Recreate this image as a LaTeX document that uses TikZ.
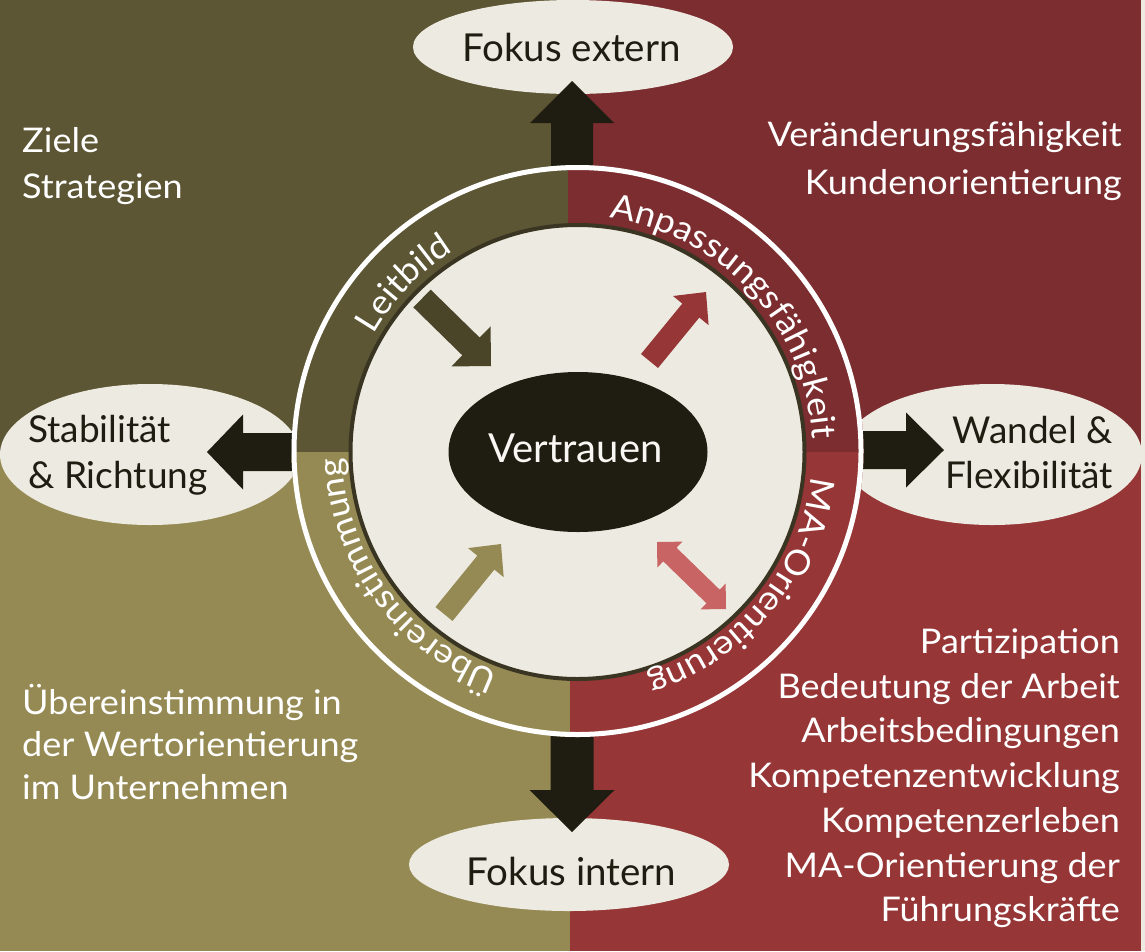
\documentclass[tikz,border=0pt]{standalone}
\usepackage{fontspec}
\setmainfont{Lato}
\newfontfamily\widefam{Lato}[FakeStretch=1.06]
\usetikzlibrary{calc,shapes.geometric,decorations.text}
\definecolor{cTL}{HTML}{5C5634}
\definecolor{cTR}{HTML}{7C2D2F}
\definecolor{cBL}{HTML}{968A54}
\definecolor{cBR}{HTML}{963636}
\definecolor{cDark}{HTML}{1F1D11}
\definecolor{cCream}{HTML}{EDEBE1}
\definecolor{cBorder}{HTML}{3A3522}
\definecolor{cLeit}{HTML}{4A4429}
\definecolor{cMA}{HTML}{C96464}
\newcommand\lblfont{\widefam\fontsize{34}{40}\selectfont}
\newcommand\ellfont{\fontsize{38.5}{46}\selectfont}
\newcommand\sidefont{\fontsize{37}{44}\selectfont}
\newcommand\ringfont{\widefam\fontsize{34}{40}\selectfont}
\newcommand{\fatarrow}[6]{%
  \coordinate (fa-c) at ($(#3)!#6!(#2)$);
  \fill[#1] ($(#2)!#4!90:(#3)$) -- ($(fa-c)!#4!90:(#3)$) -- ($(fa-c)!#5!90:(#3)$) -- (#3)
    -- ($(fa-c)!#5!-90:(#3)$) -- ($(fa-c)!#4!-90:(#3)$) -- ($(#2)!#4!-90:(#3)$) -- cycle;}
\newcommand{\dblarrow}[6]{%
  \coordinate (da-a) at ($(#2)!#6!(#3)$);
  \coordinate (da-b) at ($(#3)!#6!(#2)$);
  \fill[#1] (#2) -- ($(da-a)!#5!90:(#3)$) -- ($(da-a)!#4!90:(#3)$) -- ($(da-b)!#4!90:(#3)$)
    -- ($(da-b)!#5!90:(#3)$) -- (#3) -- ($(da-b)!#5!-90:(#3)$) -- ($(da-b)!#4!-90:(#3)$)
    -- ($(da-a)!#4!-90:(#3)$) -- ($(da-a)!#5!-90:(#3)$) -- cycle;}
\begin{document}
\begin{tikzpicture}[x=1pt,y=1pt,
  outell/.style={ellipse, fill=cCream, draw=none, inner sep=0pt},
  wlbl/.style={text=white, inner sep=0pt, font=\lblfont},
  dlbl/.style={text=cDark, inner sep=0pt, font=\ellfont},
  ringtext/.style={decorate, decoration={text along path, text align=center, text color=white}}]
\useasboundingbox (0,0) rectangle (1145,-951);
% background quadrants
\fill[cCream] (0,0) rectangle (1145,-951);
\fill[cTL] (0,0) rectangle (568,-452);
\fill[cTR] (568,0) rectangle (1141,-452);
\fill[cBL] (0,-452) rectangle (570,-951);
\fill[cBR] (570,-452) rectangle (1141,-951);
% outer ellipses
\node[outell, minimum width=320pt, minimum height=94pt] (fext) at (573,-47) {};
\node[outell, minimum width=320pt, minimum height=93pt] (fint) at (569,-864.5) {};
\node[outell, minimum width=300pt, minimum height=141pt] (stab) at (150,-454.5) {};
\node[outell, minimum width=300pt, minimum height=141pt] (wand) at (992,-454.5) {};
% big arrows
\coordinate (ctr) at (577.5,-451);
\coordinate (tN) at (572,-200); \coordinate (hN) at (572,-81);
\coordinate (tS) at (572,-700); \coordinate (hS) at (572,-832);
\coordinate (tW) at (330,-452); \coordinate (hW) at (207,-452);
\coordinate (tE) at (830,-450); \coordinate (hE) at (944,-450);
\fatarrow{cDark}{tN}{hN}{21pt}{42pt}{42pt}
\fatarrow{cDark}{tS}{hS}{21.5pt}{42.5pt}{42pt}
\fatarrow{cDark}{tW}{hW}{19pt}{37.5pt}{36pt}
\fatarrow{cDark}{tE}{hE}{19pt}{37.5pt}{38pt}
% ring
\begin{scope}
  \clip (ctr) circle (286pt);
  \fill[cTL] (0,0) rectangle (568,-452);
  \fill[cTR] (568,0) rectangle (1141,-452);
  \fill[cBL] (0,-452) rectangle (570,-951);
  \fill[cBR] (570,-452) rectangle (1141,-951);
\end{scope}
\node[circle, draw=white, line width=5pt, minimum size=567pt, inner sep=0pt] (ring) at (ctr) {};
\node[circle, fill=cCream, draw=cBorder, line width=4pt, minimum size=454pt, inner sep=0pt] (inner) at (577.5,-452) {};
% centre
\node[ellipse, fill=cDark, minimum width=259pt, minimum height=160pt, inner sep=0pt] (vt) at (578,-452) {};
\node[anchor=base, text=cCream!40!white, inner sep=0pt, font=\fontsize{40}{48}\selectfont] (vtt) at (575.5,-462) {Vertrauen};
% small arrows
\coordinate (a1t) at (422,-298.5); \coordinate (a1h) at (491,-366);
\coordinate (a2t) at (649.5,-361); \coordinate (a2h) at (706,-292);
\coordinate (a3t) at (444,-614); \coordinate (a3h) at (501,-544);
\coordinate (a4a) at (657,-542); \coordinate (a4b) at (726,-609);
\fatarrow{cLeit}{a1t}{a1h}{12.4pt}{28pt}{28pt}
\fatarrow{cBR}{a2t}{a2h}{11pt}{23pt}{24pt}
\fatarrow{cBL}{a3t}{a3h}{11pt}{23pt}{24pt}
\dblarrow{cMA}{a4a}{a4b}{9.5pt}{18pt}{18pt}
% ring texts
\path[ringtext, decoration={text={|\ringfont|Leitbild}}]
  ($(ctr)+(200:235pt)$) arc[start angle=200, end angle=72, radius=235pt];
\path[ringtext, decoration={text={|\ringfont|Anpassungsfähigkeit}}]
  ($(ctr)+(110:235pt)$) arc[start angle=110, end angle=-25, radius=235pt];
\path[ringtext, decoration={text={|\ringfont|MA-Orientierung}}]
  ($(ctr)+(20:235pt)$) arc[start angle=20, end angle=-99, radius=235pt];
\path[ringtext, decoration={text={|\ringfont|Übereinstimmung}}]
  ($(ctr)+(280:235pt)$) arc[start angle=280, end angle=152, radius=235pt];
% ellipse labels
\node[dlbl, anchor=base] (fextt) at (571.5,-61) {Fokus extern};
\node[dlbl, anchor=base] (fintt) at (571.5,-885) {Fokus intern};
\node[dlbl, font=\sidefont, anchor=base west] (stab1) at (28,-442) {Stabilität};
\node[dlbl, font=\sidefont, anchor=base west] (stab2) at (28,-488) {\& Richtung};
\node[dlbl, font=\sidefont, anchor=base east] (wand1) at (1113,-443) {Wandel \&};
\node[dlbl, font=\sidefont, anchor=base east] (wand2) at (1113,-488) {Flexibilität};
% corner labels
\node[wlbl, anchor=base west] (tl1) at (22,-152) {Ziele};
\node[wlbl, anchor=base west] (tl2) at (22,-198) {Strategien};
\node[wlbl, anchor=base east] (tr1) at (1122,-146) {Veränderungsfähigkeit};
\node[wlbl, anchor=base east] (tr2) at (1122,-194) {Kundenorientierung};
\node[wlbl, anchor=base west] (bl1) at (22,-714) {Übereinstimmung in};
\node[wlbl, anchor=base west] (bl2) at (22,-756) {der Wertorientierung};
\node[wlbl, anchor=base west] (bl3) at (22,-799) {im Unternehmen};
\node[wlbl, anchor=base east] (br1) at (1120,-653) {Partizipation};
\node[wlbl, anchor=base east] (br2) at (1120,-698) {Bedeutung der Arbeit};
\node[wlbl, anchor=base east] (br3) at (1120,-742) {Arbeitsbedingungen};
\node[wlbl, anchor=base east] (br4) at (1120,-787) {Kompetenzentwicklung};
\node[wlbl, anchor=base east] (br5) at (1120,-832) {Kompetenzerleben};
\node[wlbl, anchor=base east] (br6) at (1120,-877) {MA-Orientierung der};
\node[wlbl, anchor=base east] (br7) at (1120,-921) {Führungskräfte};
\end{tikzpicture}
\end{document}
